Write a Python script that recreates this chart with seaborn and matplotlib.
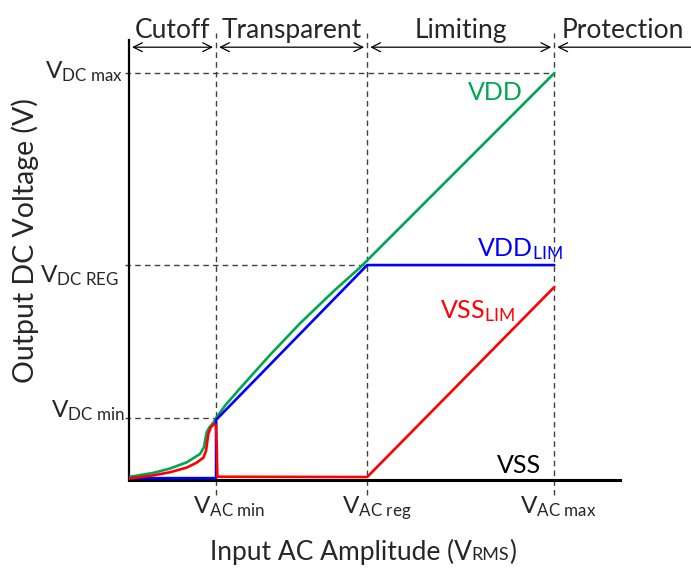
import numpy as np
import pandas as pd
import matplotlib
matplotlib.use("Agg")
import matplotlib.pyplot as plt
import seaborn as sns

# ---------------- data (schematic units) ----------------
vac_ticks = [1.0, 2.736, 4.885]
vac_labels = [r"V$_{\mathrm{AC\ min}}$", r"V$_{\mathrm{AC\ reg}}$", r"V$_{\mathrm{AC\ max}}$"]
vdc_ticks = [1.0, 3.468, 6.565]
vdc_labels = [r"V$_{\mathrm{DC\ min}}$", r"V$_{\mathrm{DC\ REG}}$", r"V$_{\mathrm{DC\ max}}$"]
vdc_line_ends = [1.0, 2.736, 4.885]

regions = ["Cutoff", "Transparent", "Limiting", "Protection"]
region_bounds = [0.0, 1.0, 2.736, 4.885, 6.46]

vdd_x = [0.0, 0.28, 0.471, 0.663, 0.816, 0.862, 0.877, 0.893, 0.923, 0.969, 1.008,
         1.103, 1.276, 1.621, 1.966, 2.345, 2.655, 4.885]
vdd_y = [0.05, 0.115, 0.185, 0.285, 0.42, 0.53, 0.66, 0.77, 0.85, 0.925, 1.015,
         1.2, 1.48, 2.02, 2.53, 3.04, 3.43, 6.565]

vddlim_x = [0.0, 1.0, 1.0, 2.736, 4.885]
vddlim_y = [0.03, 0.03, 0.97, 3.468, 3.468]

vsslim_x = [0.0, 0.28, 0.471, 0.663, 0.778, 0.854, 0.885, 0.9, 0.911, 0.939, 0.977,
            1.0, 1.008, 1.015, 2.736, 4.885]
vsslim_y = [0.024, 0.075, 0.125, 0.2, 0.28, 0.36, 0.47, 0.63, 0.74, 0.85, 0.905,
            0.88, 0.537, 0.053, 0.048, 3.113]

vss_x = [0.0, 5.62]
vss_y = [0.0, 0.0]

series_names = ["VDD", "VDD_LIM", "VSS_LIM"]
series_colors = {"VDD": "#00A650", "VDD_LIM": "#0000FF", "VSS_LIM": "#FF0000"}

# ---------------- style ----------------
sns.set_theme(style="white")
plt.rcParams["font.family"] = ["Lato", "DejaVu Sans"]
plt.rcParams["mathtext.fontset"] = "custom"
plt.rcParams["mathtext.rm"] = "Lato"
plt.rcParams["mathtext.it"] = "Lato:italic"
plt.rcParams["mathtext.bf"] = "Lato:bold"

W, H = 691, 569
fig = plt.figure(figsize=(W / 100, H / 100), dpi=100)
ax = fig.add_axes([129 / W, 89 / H, 491 / W, 440 / H])

PX = 0.72  # points per pixel

df = pd.concat([
    pd.DataFrame({"x": vdd_x, "y": vdd_y, "series": "VDD"}),
    pd.DataFrame({"x": vddlim_x, "y": vddlim_y, "series": "VDD_LIM"}),
    pd.DataFrame({"x": vsslim_x, "y": vsslim_y, "series": "VSS_LIM"}),
], ignore_index=True)

# dashed guides
ax.vlines(vac_ticks, -0.24, 7.21, colors="#404040", linestyles=(0, (4, 3)),
          lw=1.0, clip_on=False, zorder=1)
ax.hlines(vdc_ticks, -0.046, vdc_line_ends, colors="#404040", linestyles=(0, (4, 3)),
          lw=1.0, clip_on=False, zorder=1)

sns.lineplot(data=pd.DataFrame({"x": vss_x, "y": vss_y}), x="x", y="y", color="black",
             lw=2.2, ax=ax, zorder=3, sort=False, estimator=None)
sns.lineplot(data=df, x="x", y="y", hue="series", hue_order=series_names,
             palette=series_colors, sort=False, estimator=None, legend=False,
             lw=1.9, ax=ax, zorder=4)

ax.set_xlim(0, 5.64)
ax.set_ylim(0, 7.1)
ax.set_xticks([])
ax.set_yticks([])
ax.set_xlabel("")
ax.set_ylabel("")
for s in ["top", "right"]:
    ax.spines[s].set_visible(False)
ax.spines["left"].set_color("black")
ax.spines["left"].set_linewidth(1.6)
ax.spines["bottom"].set_color("black")
ax.spines["bottom"].set_linewidth(2.2)

# tick labels
tick_fs = 17.5
x_dx = [-23, -25, -34]
for v, lab, dx in zip(vac_ticks, vac_labels, x_dx):
    ax.annotate(lab, xy=(v, 0), xytext=(dx * PX, -33 * PX), textcoords="offset points",
                ha="left", va="baseline", fontsize=tick_fs, annotation_clip=False)
y_dx = [-4, -10, -6]
y_dy = [1, -17, -5]
for v, lab, dx, dy in zip(vdc_ticks, vdc_labels, y_dx, y_dy):
    ax.annotate(lab, xy=(0, v), xytext=(dx * PX, dy * PX), textcoords="offset points",
                ha="right", va="baseline", fontsize=tick_fs, annotation_clip=False)

# series labels
lab_fs = 18
ax.text(3.897, 6.13, "VDD", color=series_colors["VDD"], fontsize=lab_fs, va="baseline")
ax.text(4.0, 3.61, r"VDD$_{\mathrm{LIM}}$", color=series_colors["VDD_LIM"], fontsize=lab_fs, va="baseline")
ax.text(3.575, 2.61, r"VSS$_{\mathrm{LIM}}$", color=series_colors["VSS_LIM"], fontsize=lab_fs, va="baseline")
ax.text(4.23, 0.113, "VSS", color="black", fontsize=lab_fs, va="baseline")

# region headers & arrows
gap = 0.035
arrow_y = (480 - 47) / 62
for i, name in enumerate(regions):
    a, b = region_bounds[i], region_bounds[i + 1]
    last = i == len(regions) - 1
    ax.annotate("", xy=(b if last else b - gap, arrow_y), xytext=(a + gap, arrow_y),
                arrowprops=dict(arrowstyle="<-" if last else "<->", lw=0.9, color="black",
                                shrinkA=0, shrinkB=0, mutation_scale=16, clip_on=False),
                annotation_clip=False)
    ax.text((a + b) / 2, (480 - 38) / 62, name, ha="center", va="baseline",
            fontsize=19, clip_on=False)

# axis labels
fig.text(25 / W, 1 - 241 / H, "Output DC Voltage (V)", rotation=90, ha="center",
         va="center", fontsize=20.5)

lab_base = 1 - 560 / H
t1 = fig.text(0, lab_base, "Input AC Amplitude (V", fontsize=19, va="baseline")
t2 = fig.text(0, lab_base, "RMS", fontsize=13, va="baseline")
t3 = fig.text(0, lab_base, ")", fontsize=19, va="baseline")
fig.canvas.draw()
r = fig.canvas.get_renderer()
w1 = t1.get_window_extent(r).width
w2 = t2.get_window_extent(r).width
w3 = t3.get_window_extent(r).width
start = 363 - (w1 + w2 + w3) / 2
t1.set_x(start / W)
t2.set_x((start + w1) / W)
t3.set_x((start + w1 + w2) / W)

fig.savefig("out.png", dpi=100)
